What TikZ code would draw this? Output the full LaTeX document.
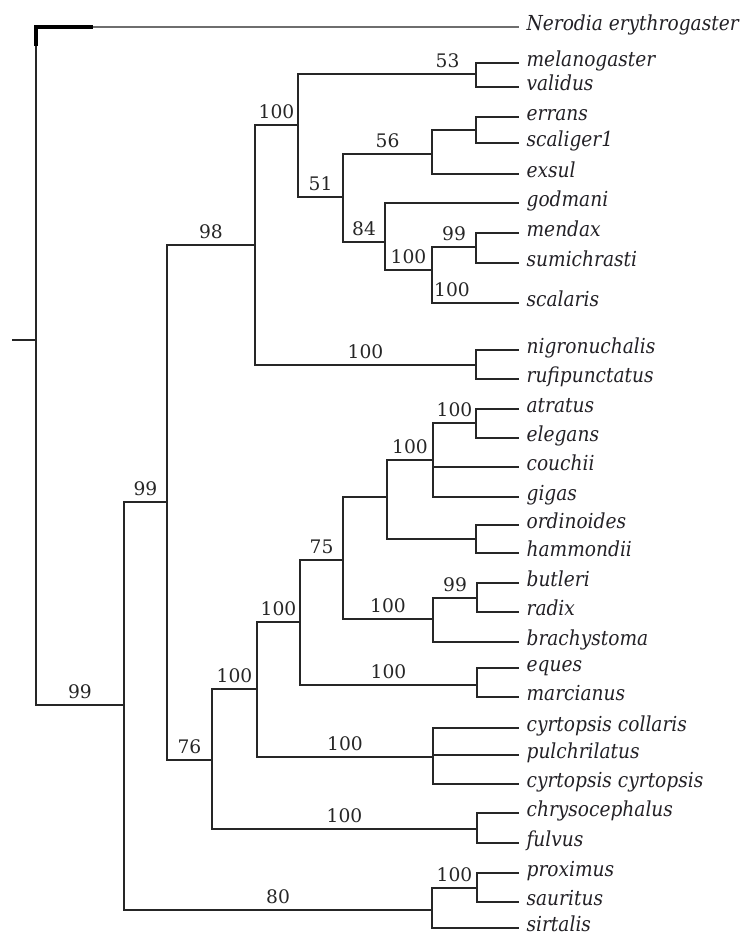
\documentclass[tikz,border=0pt]{standalone}
\usepackage{fontspec}
\usetikzlibrary{positioning}
\setmainfont{DejaVu Serif}
\newfontfamily\taxfont{DejaVu Serif}[FakeStretch=0.9]
\definecolor{treeink}{RGB}{38,38,38}
\definecolor{outink}{RGB}{110,110,110}
\definecolor{taxink}{RGB}{35,33,38}
\tikzset{
  br/.style={treeink, line width=1.6pt},
  outbr/.style={outink, line width=1.6pt},
  topbar/.style={black, line width=2.4pt},
  leaf/.style={anchor=mid west, inner xsep=5.5pt, inner ysep=0pt,
      font=\taxfont\itshape\fontsize{15.5}{17}\selectfont, text=taxink},
  bs/.style={pos=0.75, above=3.6pt, inner sep=0pt,
      font=\fontsize{14}{15}\selectfont, text=treeink},
}
\begin{document}
\begin{tikzpicture}[x=0.75pt,y=-0.75pt]
\useasboundingbox (0,0) rectangle (746,937);
\def\xl{519}
% taxa
\foreach \id/\yy/\txt in {ner/27/Nerodia erythrogaster, mel/63/melanogaster,
    val/87/validus, err/117/errans, sca/143/scaliger1, exs/174/exsul,
    god/203/godmani, men/233/mendax, sum/263/sumichrasti, scl/303/scalaris,
    nig/350/nigronuchalis, ruf/379/rufipunctatus, atr/409/atratus,
    ele/438/elegans, cou/467/couchii, gig/497/gigas, ord/525/ordinoides,
    ham/553/hammondii, but/583/butleri, rad/612/radix, bra/642/brachystoma,
    equ/668/eques, mar/697/marcianus, cco/728/cyrtopsis collaris,
    pul/755/pulchrilatus, ccy/784/cyrtopsis cyrtopsis, chr/813/chrysocephalus,
    ful/843/fulvus, pro/873/proximus, sau/902/sauritus, sir/928/sirtalis}
  \node[leaf] (\id) at (\xl,\yy) {\txt};
% internal nodes
\coordinate (stem) at (12,340);
\coordinate (root) at (36,340);
\coordinate (rootcap) at (36,46);
\coordinate (nerbar) at (93,27);
\coordinate (n99a) at (124,705);
\coordinate (n99b) at (167,502);
\coordinate (n98) at (255,245);
\coordinate (n100a) at (298,125);
\coordinate (n53) at (476,74);
\coordinate (n51) at (343,197);
\coordinate (n56) at (432,154);
\coordinate (nErr) at (476,130);
\coordinate (n84) at (385,242);
\coordinate (n100b) at (432,270);
\coordinate (n99c) at (476,247);
\coordinate (nNig) at (476,365);
\coordinate (n76) at (212,760);
\coordinate (n100c) at (257,689);
\coordinate (n100d) at (300,622);
\coordinate (n75) at (343,560);
\coordinate (n100e) at (387,497);
\coordinate (n100f) at (433,460);
\coordinate (nAtr) at (476,423);
\coordinate (nOrd) at (476,539);
\coordinate (nBra) at (433,619);
\coordinate (nBut) at (477,598);
\coordinate (nEqu) at (477,685);
\coordinate (nCyr) at (433,757);
\coordinate (nChr) at (477,829);
\coordinate (n80) at (432,910);
\coordinate (nPro) at (477,888);
% backbone
\draw[br] (stem) -- (root);
\draw[br] (root) -- (root |- ner.mid west);
\draw[outbr] (nerbar) -- (ner.mid west);
\draw[topbar] (rootcap) |- (nerbar);
\draw[br] (root) |- node[bs]{99} (n99a);
\draw[br] (n99a) |- node[bs]{99} (n99b);
\draw[br] (n99a) |- node[bs]{80} (n80);
\draw[br] (n99b) |- node[bs]{98} (n98);
\draw[br] (n99b) |- node[bs]{76} (n76);
% upper clade
\draw[br] (n98) |- node[bs]{100} (n100a);
\draw[br] (n98) |- node[bs]{100} (nNig);
\draw[br] (n100a) |- node[bs, pos=0.92]{53} (n53);
\draw[br] (n100a) |- node[bs]{51} (n51);
\draw[br] (n51) |- node[bs]{56} (n56);
\draw[br] (n51) |- node[bs]{84} (n84);
\draw[br] (n56) |- (nErr);
\draw[br] (n84) |- node[bs]{100} (n100b);
\draw[br] (n100b) |- node[bs]{99} (n99c);
\draw[br] (n100b) |- node[bs, pos=0.615]{100} (scl.mid west);
% lower clade
\draw[br] (n76) |- node[bs]{100} (n100c);
\draw[br] (n76) |- node[bs]{100} (nChr);
\draw[br] (n100c) |- node[bs]{100} (n100d);
\draw[br] (n100c) |- node[bs]{100} (nCyr);
\draw[br] (n100d) |- node[bs]{75} (n75);
\draw[br] (n100d) |- node[bs]{100} (nEqu);
\draw[br] (n75) |- (n100e);
\draw[br] (n75) |- node[bs]{100} (nBra);
\draw[br] (n100e) |- node[bs]{100} (n100f);
\draw[br] (n100e) |- (nOrd);
\draw[br] (n100f) |- node[bs]{100} (nAtr);
\draw[br] (nBra) |- node[bs]{99} (nBut);
\draw[br] (n80) |- node[bs]{100} (nPro);
% terminal branches
\foreach \pa/\ch in {n53/mel, n53/val, nErr/err, nErr/sca, n56/exs, n84/god,
    n99c/men, n99c/sum, nNig/nig, nNig/ruf, nAtr/atr, nAtr/ele, n100f/cou,
    n100f/gig, nOrd/ord, nOrd/ham, nBut/but, nBut/rad, nBra/bra, nEqu/equ,
    nEqu/mar, nCyr/cco, nCyr/pul, nCyr/ccy, nChr/chr, nChr/ful, nPro/pro,
    nPro/sau, n80/sir}
  \draw[br] (\pa) |- (\ch.mid west);
\end{tikzpicture}
\end{document}
